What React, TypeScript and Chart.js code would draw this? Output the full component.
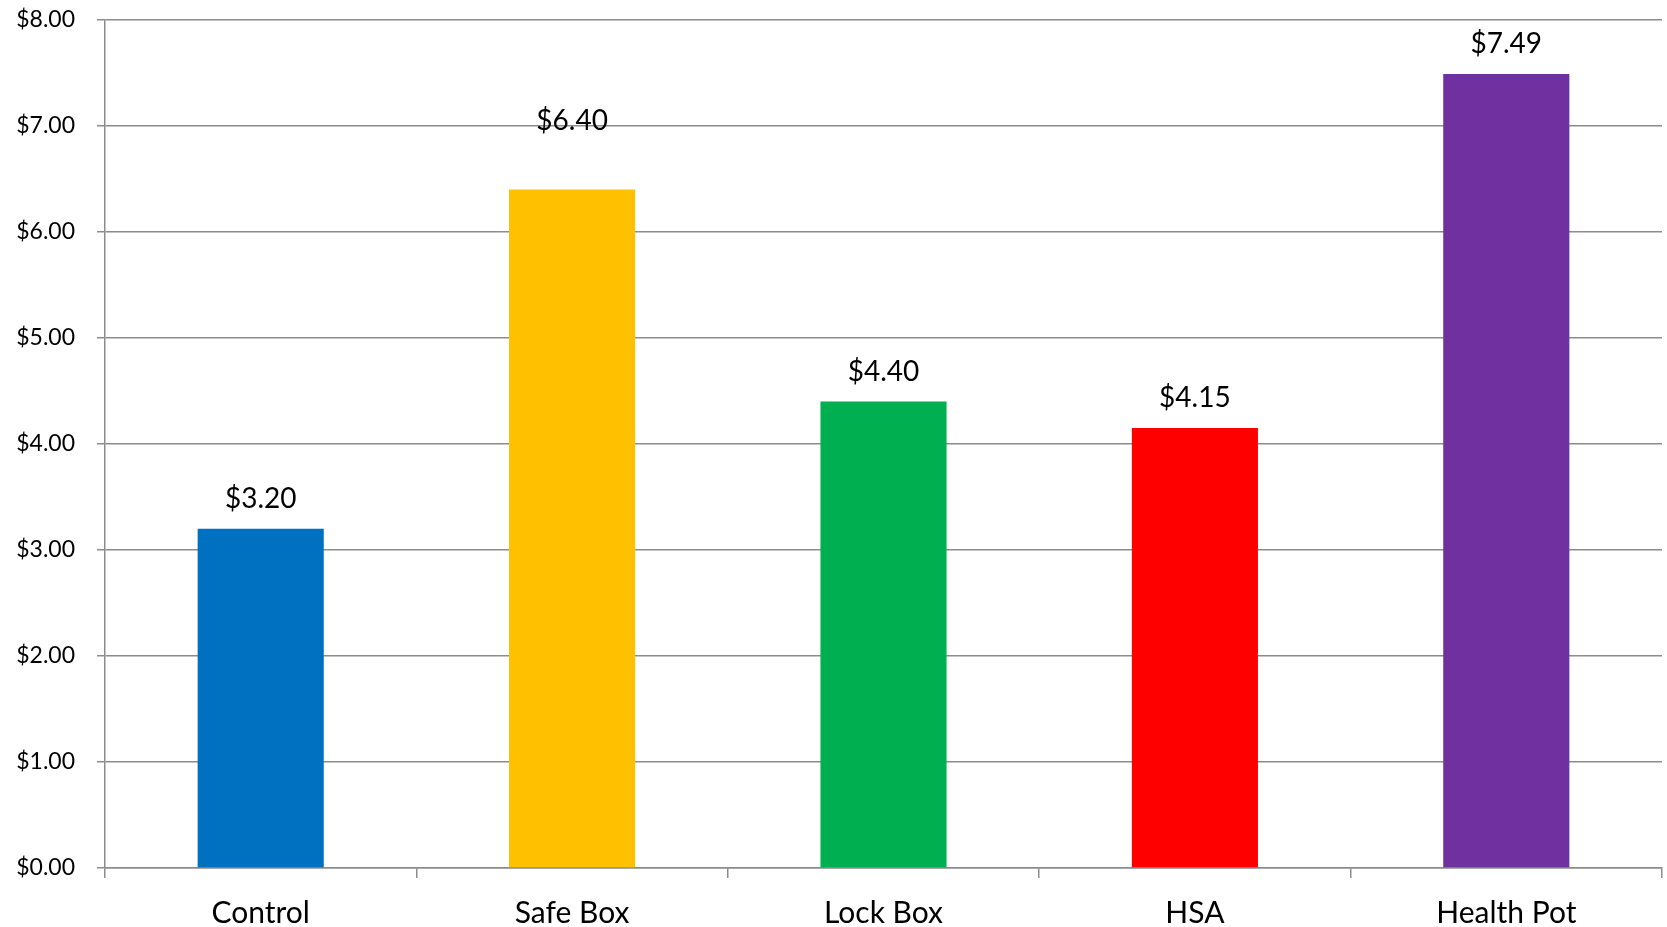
import React, { useEffect, useRef } from "react";
import { Chart, registerables } from "chart.js";

Chart.register(...registerables);

const categories = ["Control", "Safe Box", "Lock Box", "HSA", "Health Pot"];
const amounts = [3.2, 6.4, 4.4, 4.15, 7.49];
const barColors = ["#0070C0", "#FFC000", "#00B050", "#FF0000", "#7030A0"];
const yTicks = [0, 1, 2, 3, 4, 5, 6, 7, 8];

// Extra upward nudge (px) for individual value labels
const labelLift = [0, 39, 0, 0, 0];

const FONT = "Lato, 'Open Sans', sans-serif";
const money = (v: number) => "$" + v.toFixed(2);

const valueLabels = {
  id: "valueLabels",
  afterDatasetsDraw(chart: any) {
    const { ctx } = chart;
    const meta = chart.getDatasetMeta(0);
    ctx.save();
    ctx.font = `28px ${FONT}`;
    ctx.fillStyle = "#000";
    ctx.textAlign = "center";
    ctx.textBaseline = "middle";
    meta.data.forEach((bar: any, i: number) => {
      const v = chart.data.datasets[0].data[i] as number;
      ctx.fillText(money(v), bar.x, bar.y - 30 - (labelLift[i] || 0));
    });
    ctx.restore();
  },
};

export default function App() {
  const ref = useRef<HTMLCanvasElement>(null);

  useEffect(() => {
    document.body.style.margin = "0";
    const chart = new Chart(ref.current!, {
      type: "bar",
      data: {
        labels: categories,
        datasets: [
          {
            data: amounts,
            backgroundColor: barColors,
            borderWidth: 0,
            categoryPercentage: 1,
            barPercentage: 0.405,
          },
        ],
      },
      options: {
        animation: false,
        responsive: false,
        maintainAspectRatio: false,
        layout: { padding: { top: 20, right: 5, left: 0, bottom: 0 } },
        plugins: { legend: { display: false }, tooltip: { enabled: false } },
        scales: {
          x: {
            offset: true,
            grid: {
              offset: true,
              drawOnChartArea: false,
              drawTicks: true,
              tickLength: 10,
              color: "#8c8c8c",
              lineWidth: 1.5,
            },
            border: { display: true, color: "#8c8c8c", width: 1.5 },
            ticks: {
              color: "#000",
              font: { family: FONT, size: 30 },
              padding: 17,
            },
            afterFit(scale: any) {
              scale.height = 59;
              scale.paddingLeft = 0;
              scale.paddingRight = 0;
            },
          },
          y: {
            min: 0,
            max: 8,
            afterBuildTicks(scale: any) {
              scale.ticks = yTicks.map((v) => ({ value: v }));
            },
            grid: {
              color: "#8c8c8c",
              lineWidth: 1.5,
              drawTicks: true,
              tickLength: 8,
            },
            border: { display: true, color: "#8c8c8c", width: 1.5 },
            ticks: {
              color: "#000",
              font: { family: FONT, size: 23 },
              padding: 22,
              callback: (v: any) => money(Number(v)),
            },
            afterFit(scale: any) {
              scale.width = 105;
              scale.paddingTop = 0;
              scale.paddingBottom = 0;
            },
          },
        },
      },
      plugins: [valueLabels],
    });
    return () => chart.destroy();
  }, []);

  return (
    <div style={{ width: 1667, height: 927 }}>
      <canvas ref={ref} width={1667} height={927} style={{ display: "block" }} />
    </div>
  );
}
